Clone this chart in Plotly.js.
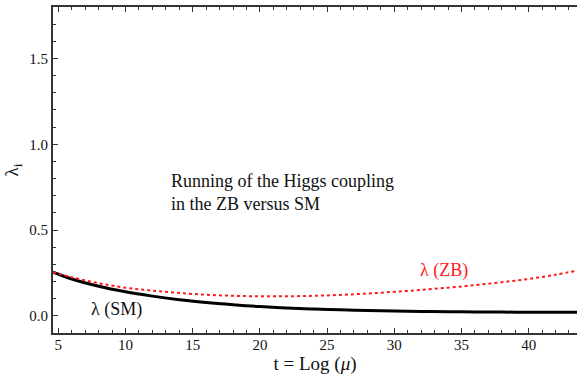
<!DOCTYPE html>
<html>
<head>
<meta charset="utf-8">
<script src="https://cdn.plot.ly/plotly-3.0.1.min.js"></script>
<style>
  html, body { margin: 0; padding: 0; background: #fff; }
  #chart { width: 577px; height: 376px; }
</style>
</head>
<body>
<div id="chart"></div>
<script>
// t = Log(mu) sample points
const t = [4.6, 6, 8, 10, 12, 14, 16, 18, 20, 22, 24, 26, 28, 30, 32, 34, 36, 38, 40, 42, 43.6];
// Higgs quartic coupling running, Standard Model
const lambdaSM = [0.255, 0.215, 0.172, 0.140, 0.115, 0.094, 0.078, 0.065, 0.054, 0.046, 0.040, 0.035, 0.031, 0.028, 0.026, 0.024, 0.023, 0.022, 0.021, 0.021, 0.021];
// Higgs quartic coupling running, ZB model
const lambdaZB = [0.255, 0.225, 0.190, 0.164, 0.147, 0.133, 0.123, 0.117, 0.114, 0.114, 0.117, 0.122, 0.130, 0.140, 0.151, 0.164, 0.179, 0.196, 0.215, 0.240, 0.263];

const FONT = 'Liberation Serif';

const traces = [
  {
    x: t, y: lambdaSM, mode: 'lines', line: { color: '#000', width: 3, shape: 'spline' },
    hoverinfo: 'skip', showlegend: false
  },
  {
    x: t, y: lambdaZB, mode: 'lines', line: { color: '#ff1a1a', width: 2, dash: 'dot', shape: 'spline' },
    hoverinfo: 'skip', showlegend: false
  }
];

// Title block position in pixels, converted to paper coordinates
const plotW = 577 - 53, plotH = 376 - 7 - 43;
const titleX = (169 - 53) / plotW;
const titleY = 1 - (192 - 7) / plotH;

const layout = {
  width: 577, height: 376,
  font: { family: FONT, size: 15, color: '#111' },
  margin: { l: 53, r: 0, t: 7, b: 43 },
  paper_bgcolor: '#fff', plot_bgcolor: '#fff',
  xaxis: {
    showgrid: false, zeroline: false, showline: true,
    linecolor: '#333', linewidth: 2,
    ticks: 'inside', ticklen: 5, tickwidth: 1, tickcolor: '#333',
    tickfont: { family: FONT, size: 15 }, ticklabelstandoff: -3,
    range: [4.6, 43.6], tick0: 5, dtick: 5, mirror: 'ticks',
    minor: { dtick: 1, ticks: 'inside', ticklen: 3, tickcolor: '#333', tickwidth: 1 },
    title: { text: 't = Log (<i>μ</i>)', font: { family: FONT, size: 19 }, standoff: 0 }
  },
  yaxis: {
    showgrid: false, zeroline: false, showline: true,
    linecolor: '#333', linewidth: 2,
    ticks: 'inside', ticklen: 5, tickwidth: 1, tickcolor: '#333',
    tickfont: { family: FONT, size: 15 },
    range: [-0.1, 1.8], tick0: 0, dtick: 0.5, tickformat: '.1f',
    minor: { dtick: 0.1, ticks: 'inside', ticklen: 3, tickcolor: '#333', tickwidth: 1 },
    title: { text: 'λ<sub>i</sub>', font: { family: FONT, size: 19 }, standoff: 6 }
  },
  annotations: [
    {
      x: titleX, y: titleY, xref: 'paper', yref: 'paper', showarrow: false,
      text: 'Running of the Higgs coupling<br>in the ZB versus SM',
      align: 'left', xanchor: 'left', yanchor: 'middle',
      font: { family: FONT, size: 18, color: '#111' }
    },
    {
      x: 7.3, y: 0.035, xref: 'x', yref: 'y', showarrow: false,
      text: 'λ (SM)', xanchor: 'left', yanchor: 'middle',
      font: { family: FONT, size: 18, color: '#111' }
    },
    {
      x: 31.8, y: 0.265, xref: 'x', yref: 'y', showarrow: false,
      text: 'λ (ZB)', xanchor: 'left', yanchor: 'middle',
      font: { family: FONT, size: 18, color: '#ff1a1a' }
    }
  ]
};

Plotly.newPlot('chart', traces, layout, { staticPlot: true });
</script>
</body>
</html>
